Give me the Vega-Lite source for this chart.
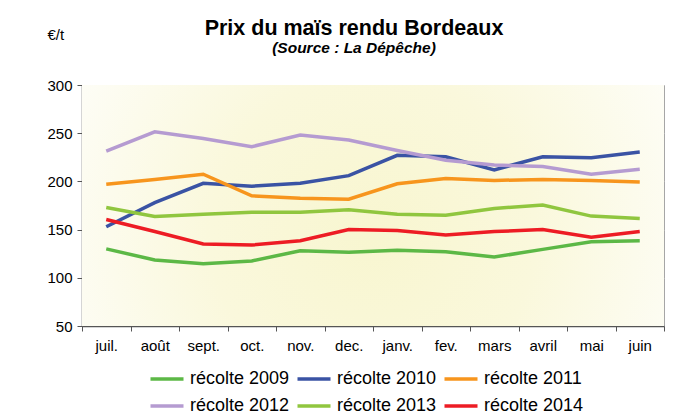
{
  "$schema": "https://vega.github.io/schema/vega-lite/v6.json",
  "width": 582,
  "height": 241,
  "autosize": {"type": "none"},
  "padding": {"left": 82, "top": 85, "right": 16, "bottom": 90},
  "background": "white",
  "title": {
    "text": "Prix du maïs rendu Bordeaux",
    "subtitle": "(Source : La Dépêche)",
    "font": "Liberation Sans",
    "fontSize": 21.5,
    "fontWeight": "bold",
    "color": "black",
    "subtitleFont": "Liberation Sans",
    "subtitleFontSize": 15.5,
    "subtitleFontStyle": "italic",
    "subtitleFontWeight": "bold",
    "subtitleColor": "black",
    "subtitlePadding": 1,
    "anchor": "middle",
    "frame": "group",
    "dx": -19,
    "offset": -29
  },
  "config": {
    "view": {"stroke": "#a6a6a6", "strokeWidth": 1},
    "font": "Liberation Sans"
  },
  "layer": [
    {
      "data": {"values": [{"bg": 1}]},
      "mark": {
        "type": "rect",
        "fill": {
          "gradient": "radial",
          "x1": 0.5, "y1": 0.55, "r1": 0,
          "x2": 0.5, "y2": 0.55, "r2": 0.62,
          "stops": [
            {"offset": 0, "color": "#f8f6d0"},
            {"offset": 0.45, "color": "#faf8dc"},
            {"offset": 1, "color": "#fefefb"}
          ]
        },
        "stroke": null
      },
      "encoding": {}
    },
    {
      "data": {
        "values": [
          {"mois": "juil.", "recolte": "récolte 2009", "prix": 130},
          {"mois": "août", "recolte": "récolte 2009", "prix": 118.5},
          {"mois": "sept.", "recolte": "récolte 2009", "prix": 114.5},
          {"mois": "oct.", "recolte": "récolte 2009", "prix": 117.5},
          {"mois": "nov.", "recolte": "récolte 2009", "prix": 128},
          {"mois": "dec.", "recolte": "récolte 2009", "prix": 126.5},
          {"mois": "janv.", "recolte": "récolte 2009", "prix": 128.5},
          {"mois": "fev.", "recolte": "récolte 2009", "prix": 127},
          {"mois": "mars", "recolte": "récolte 2009", "prix": 121.5},
          {"mois": "avril", "recolte": "récolte 2009", "prix": 129.5},
          {"mois": "mai", "recolte": "récolte 2009", "prix": 137.5},
          {"mois": "juin", "recolte": "récolte 2009", "prix": 138.5},
          {"mois": "juil.", "recolte": "récolte 2010", "prix": 153},
          {"mois": "août", "recolte": "récolte 2010", "prix": 178},
          {"mois": "sept.", "recolte": "récolte 2010", "prix": 198},
          {"mois": "oct.", "recolte": "récolte 2010", "prix": 195},
          {"mois": "nov.", "recolte": "récolte 2010", "prix": 198},
          {"mois": "dec.", "recolte": "récolte 2010", "prix": 206},
          {"mois": "janv.", "recolte": "récolte 2010", "prix": 227},
          {"mois": "fev.", "recolte": "récolte 2010", "prix": 225.5},
          {"mois": "mars", "recolte": "récolte 2010", "prix": 212},
          {"mois": "avril", "recolte": "récolte 2010", "prix": 225.5},
          {"mois": "mai", "recolte": "récolte 2010", "prix": 224.5},
          {"mois": "juin", "recolte": "récolte 2010", "prix": 230.5},
          {"mois": "juil.", "recolte": "récolte 2011", "prix": 197},
          {"mois": "août", "recolte": "récolte 2011", "prix": 202},
          {"mois": "sept.", "recolte": "récolte 2011", "prix": 207.5},
          {"mois": "oct.", "recolte": "récolte 2011", "prix": 185},
          {"mois": "nov.", "recolte": "récolte 2011", "prix": 182.5},
          {"mois": "dec.", "recolte": "récolte 2011", "prix": 181.5},
          {"mois": "janv.", "recolte": "récolte 2011", "prix": 197.5},
          {"mois": "fev.", "recolte": "récolte 2011", "prix": 203},
          {"mois": "mars", "recolte": "récolte 2011", "prix": 201},
          {"mois": "avril", "recolte": "récolte 2011", "prix": 202},
          {"mois": "mai", "recolte": "récolte 2011", "prix": 201},
          {"mois": "juin", "recolte": "récolte 2011", "prix": 199.5},
          {"mois": "juil.", "recolte": "récolte 2012", "prix": 231.5},
          {"mois": "août", "recolte": "récolte 2012", "prix": 251.5},
          {"mois": "sept.", "recolte": "récolte 2012", "prix": 244.5},
          {"mois": "oct.", "recolte": "récolte 2012", "prix": 236},
          {"mois": "nov.", "recolte": "récolte 2012", "prix": 248},
          {"mois": "dec.", "recolte": "récolte 2012", "prix": 243},
          {"mois": "janv.", "recolte": "récolte 2012", "prix": 232},
          {"mois": "fev.", "recolte": "récolte 2012", "prix": 222},
          {"mois": "mars", "recolte": "récolte 2012", "prix": 217},
          {"mois": "avril", "recolte": "récolte 2012", "prix": 215.5},
          {"mois": "mai", "recolte": "récolte 2012", "prix": 207.5},
          {"mois": "juin", "recolte": "récolte 2012", "prix": 212.5},
          {"mois": "juil.", "recolte": "récolte 2013", "prix": 173},
          {"mois": "août", "recolte": "récolte 2013", "prix": 163.5},
          {"mois": "sept.", "recolte": "récolte 2013", "prix": 166},
          {"mois": "oct.", "recolte": "récolte 2013", "prix": 168},
          {"mois": "nov.", "recolte": "récolte 2013", "prix": 168},
          {"mois": "dec.", "recolte": "récolte 2013", "prix": 170.5},
          {"mois": "janv.", "recolte": "récolte 2013", "prix": 166},
          {"mois": "fev.", "recolte": "récolte 2013", "prix": 165},
          {"mois": "mars", "recolte": "récolte 2013", "prix": 172},
          {"mois": "avril", "recolte": "récolte 2013", "prix": 175.5},
          {"mois": "mai", "recolte": "récolte 2013", "prix": 164},
          {"mois": "juin", "recolte": "récolte 2013", "prix": 161.5},
          {"mois": "juil.", "recolte": "récolte 2014", "prix": 160.5},
          {"mois": "août", "recolte": "récolte 2014", "prix": 148},
          {"mois": "sept.", "recolte": "récolte 2014", "prix": 135},
          {"mois": "oct.", "recolte": "récolte 2014", "prix": 134},
          {"mois": "nov.", "recolte": "récolte 2014", "prix": 138.5},
          {"mois": "dec.", "recolte": "récolte 2014", "prix": 150},
          {"mois": "janv.", "recolte": "récolte 2014", "prix": 149},
          {"mois": "fev.", "recolte": "récolte 2014", "prix": 144.5},
          {"mois": "mars", "recolte": "récolte 2014", "prix": 148},
          {"mois": "avril", "recolte": "récolte 2014", "prix": 150},
          {"mois": "mai", "recolte": "récolte 2014", "prix": 142},
          {"mois": "juin", "recolte": "récolte 2014", "prix": 148}
        ]
      },
      "mark": {"type": "line", "strokeWidth": 3.5, "strokeCap": "butt", "strokeJoin": "miter"},
      "encoding": {
        "x": {
          "field": "mois",
          "type": "nominal",
          "sort": ["juil.", "août", "sept.", "oct.", "nov.", "dec.", "janv.", "fev.", "mars", "avril", "mai", "juin"],
          "scale": {"type": "band", "paddingInner": 0, "paddingOuter": 0},
          "axis": {
            "title": null,
            "labelAngle": 0,
            "labelFont": "Liberation Sans",
            "labelFontSize": 15,
            "labelColor": "black",
            "labelPadding": 7,
            "tickBand": "extent",
            "tickSize": 5,
            "tickColor": "#555555",
            "domainColor": "#555555",
            "domainWidth": 1.5,
            "grid": false
          }
        },
        "y": {
          "field": "prix",
          "type": "quantitative",
          "scale": {"domain": [50, 300], "nice": false, "zero": false},
          "axis": {
            "values": [50, 100, 150, 200, 250, 300],
            "title": "€/t",
            "titleAngle": 0,
            "titleX": -35,
            "titleY": -46,
            "titleAlign": "left",
            "titleBaseline": "alphabetic",
            "titleFont": "Liberation Sans",
            "titleFontSize": 15,
            "titleFontWeight": "normal",
            "titleColor": "black",
            "labelFont": "Liberation Sans",
            "labelFontSize": 15,
            "labelColor": "black",
            "labelPadding": 5,
            "tickSize": 5,
            "tickColor": "#555555",
            "domainColor": "#555555",
            "domainWidth": 1.5,
            "grid": true,
            "gridColor": "#c4c4c4",
            "gridWidth": 1.2
          }
        },
        "color": {
          "field": "recolte",
          "type": "nominal",
          "scale": {
            "domain": ["récolte 2009", "récolte 2010", "récolte 2011", "récolte 2012", "récolte 2013", "récolte 2014"],
            "range": ["#5cb846", "#3a53a4", "#f7951d", "#b59bd1", "#90c63f", "#ed1c24"]
          },
          "legend": {
            "title": null,
            "orient": "none",
            "legendX": 76,
            "legendY": 285,
            "direction": "horizontal",
            "columns": 3,
            "symbolType": "M-3,0H3",
            "symbolSize": 121,
            "symbolStrokeWidth": 3.5,
            "labelFont": "Liberation Sans",
            "labelFontSize": 18,
            "labelColor": "black",
            "labelOffset": 14,
            "columnPadding": 0,
            "rowPadding": 9
          }
        }
      }
    }
  ]
}
